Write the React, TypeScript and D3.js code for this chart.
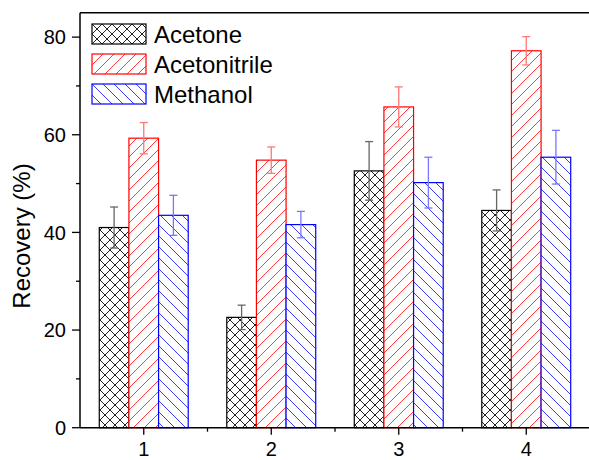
import React from "react";
import * as d3 from "d3";

const categories = [1, 2, 3, 4];
const seriesNames = ["Acetone", "Acetonitrile", "Methanol"];
const acetone = [41.0, 22.6, 52.6, 44.5];
const acetoneErr = [4.2, 2.5, 6.0, 4.2];
const acetonitrile = [59.3, 54.8, 65.7, 77.2];
const acetonitrileErr = [3.2, 2.7, 4.1, 2.9];
const methanol = [43.5, 41.6, 50.2, 55.4];
const methanolErr = [4.1, 2.7, 5.2, 5.5];
const yTicks = [0, 20, 40, 60, 80];
const yMinorTicks = [10, 30, 50, 70];

const W = 589;
const H = 460;
const left = 80;
const top = 12.7;
const bottom = 427.7;
const right = 590;

const colors = ["#000000", "#ff0000", "#0000ff"];
const hatchColors = ["#222222", "#ff3c3c", "#3c3cff"];
const errColors = ["#666666", "#ff7777", "#7777ff"];
const hatchIds = ["hatchA", "hatchB", "hatchC"];
// tile paths: crosshatch, forward diagonal, backward diagonal
const hatchPaths = [
  "M0,0 L11,11 M-5.5,5.5 L5.5,16.5 M5.5,-5.5 L16.5,5.5 M0,11 L11,0 M-5.5,5.5 L5.5,-5.5 M5.5,16.5 L16.5,5.5",
  "M0,11 L11,0 M-5.5,5.5 L5.5,-5.5 M5.5,16.5 L16.5,5.5",
  "M0,0 L11,11 M-5.5,5.5 L5.5,16.5 M5.5,-5.5 L16.5,5.5",
];
const tile = [10, 11, 11];

const App = () => {
  const x = d3.scaleLinear().domain([0.5, 4.5]).range([left, right]);
  const y = d3.scaleLinear().domain([0, 85]).range([bottom, top]);
  const barW = x(0.7325) - x(0.5);

  const series = [
    { name: seriesNames[0], values: acetone, errs: acetoneErr },
    { name: seriesNames[1], values: acetonitrile, errs: acetonitrileErr },
    { name: seriesNames[2], values: methanol, errs: methanolErr },
  ];

  const font = "'Liberation Sans', Arial, sans-serif";
  const minorX = d3.range(1.5, 4.5, 1);

  return (
    <svg width={W} height={H} style={{ position: "absolute", left: 0, top: 0, background: "#fff" }}>
      <defs>
        {hatchIds.map((id, i) => (
          <pattern key={id} id={id} width={tile[i]} height={tile[i]} patternUnits="userSpaceOnUse">
            <rect width={tile[i]} height={tile[i]} fill="#ffffff" />
            <path
              d={hatchPaths[i].replace(/11/g, String(tile[i])).replace(/5\.5/g, String(tile[i] / 2)).replace(/16\.5/g, String(tile[i] * 1.5))}
              style={{ stroke: hatchColors[i], strokeWidth: 1, fill: "none" }}
            />
          </pattern>
        ))}
      </defs>

      {/* bars */}
      {series.map((s, si) =>
        categories.map((c, ci) => {
          const x0 = x(c) - 1.5 * barW + si * barW;
          return (
            <rect
              key={`b${si}-${ci}`}
              x={x0}
              y={y(s.values[ci])}
              width={barW}
              height={y(0) - y(s.values[ci])}
              fill={`url(#${hatchIds[si]})`}
              stroke={colors[si]}
              strokeWidth={1.2}
            />
          );
        })
      )}

      {/* error bars */}
      {series.map((s, si) =>
        categories.map((c, ci) => {
          const cx = x(c) - barW + si * barW;
          const hi = y(s.values[ci] + s.errs[ci]);
          const lo = y(s.values[ci] - s.errs[ci]);
          return (
            <g key={`e${si}-${ci}`} stroke={errColors[si]} strokeWidth={1.3}>
              <line x1={cx} x2={cx} y1={hi} y2={lo} />
              <line x1={cx - 4} x2={cx + 4} y1={hi} y2={hi} />
              <line x1={cx - 4} x2={cx + 4} y1={lo} y2={lo} />
            </g>
          );
        })
      )}

      {/* frame */}
      <line x1={left} x2={right} y1={top} y2={top} stroke="#000" strokeWidth={1.5} />
      <line x1={left} x2={left} y1={top} y2={bottom} stroke="#000" strokeWidth={1.5} />
      <line x1={left} x2={right} y1={bottom} y2={bottom} stroke="#000" strokeWidth={1.5} />

      {/* y ticks */}
      {yTicks.map((t) => (
        <g key={`yt${t}`}>
          <line x1={left - 8} x2={left} y1={y(t)} y2={y(t)} stroke="#000" strokeWidth={1.3} />
          <text x={left - 14} y={y(t)} dy="0.36em" textAnchor="end" fontFamily={font} fontSize={20}>
            {t}
          </text>
        </g>
      ))}
      {yMinorTicks.map((t) => (
        <line key={`ym${t}`} x1={left - 4} x2={left} y1={y(t)} y2={y(t)} stroke="#000" strokeWidth={1.3} />
      ))}

      {/* x ticks */}
      {categories.map((c) => (
        <g key={`xt${c}`}>
          <line x1={x(c)} x2={x(c)} y1={bottom} y2={bottom + 7} stroke="#000" strokeWidth={1.3} />
          <text x={x(c)} y={bottom + 28} textAnchor="middle" fontFamily={font} fontSize={20}>
            {c}
          </text>
        </g>
      ))}
      {minorX.map((m) => (
        <line key={`xm${m}`} x1={x(m)} x2={x(m)} y1={bottom} y2={bottom + 4} stroke="#000" strokeWidth={1.3} />
      ))}

      {/* y label */}
      <text transform={`translate(30,236) rotate(-90)`} textAnchor="middle" fontFamily={font} fontSize={24}>
        Recovery (%)
      </text>

      {/* legend */}
      {series.map((s, si) => (
        <g key={`lg${si}`} transform={`translate(92,${24 + si * 30})`}>
          <rect width={54} height={20} fill={`url(#${hatchIds[si]})`} stroke={colors[si]} strokeWidth={1.2} />
          <text x={62} y={10} dy="0.36em" fontFamily={font} fontSize={24}>
            {s.name}
          </text>
        </g>
      ))}
    </svg>
  );
};

export default App;
